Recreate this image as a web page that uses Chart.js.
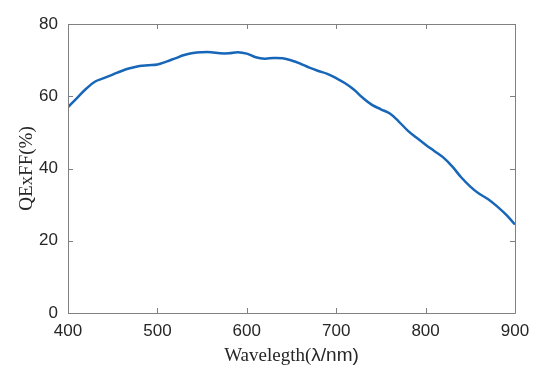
<!DOCTYPE html>
<html>
<head>
<meta charset="utf-8">
<script src="https://cdn.jsdelivr.net/npm/chart.js@4.4.1/dist/chart.umd.min.js"></script>
<style>
  html, body { margin: 0; padding: 0; background: #fff; }
  #wrap { width: 550px; height: 382px; }
</style>
</head>
<body>
<div id="wrap"><canvas id="qeChart"></canvas></div>
<script>
const wavelength = [400, 410, 420, 430, 440, 450, 460, 470, 480, 490,
  500, 510, 520, 530, 540, 550, 560, 570, 580, 590,
  600, 610, 620, 630, 640, 650, 660, 670, 680, 690,
  700, 710, 720, 730, 740, 750, 760, 770, 780, 790,
  800, 810, 820, 830, 840, 850, 860, 870, 880, 890, 900];
const qeff = [57, 59.5, 62, 64, 65, 66, 67, 67.8, 68.4, 68.6,
  68.8, 69.6, 70.5, 71.4, 72, 72.2, 72.2, 71.9, 71.9, 72.2,
  71.8, 70.8, 70.4, 70.6, 70.5, 69.9, 69, 67.9, 67, 66.2,
  65, 63.6, 61.8, 59.5, 57.6, 56.4, 55.2, 53, 50.5, 48.5,
  46.6, 44.8, 43, 40.5, 37.5, 35, 33, 31.5, 29.5, 27.2, 24.5];
const xTicks = [400, 500, 600, 700, 800, 900];
const yTicks = [0, 20, 40, 60, 80];

const axisColor = "#808080";
const textColor = "#262626";

// MATLAB style box with ticks pointing inwards, plus the mixed-font x title
const boxPlugin = {
  id: "boxPlugin",
  afterDraw(chart) {
    const ctx = chart.ctx;
    const a = chart.chartArea;
    const xs = chart.scales.x;
    const ys = chart.scales.y;
    const len = 5;
    ctx.save();
    ctx.strokeStyle = axisColor;
    ctx.lineWidth = 1;
    ctx.beginPath();
    ctx.rect(a.left + 0.5, a.top + 0.5, a.right - a.left, a.bottom - a.top);
    xTicks.forEach((v) => {
      const px = Math.round(xs.getPixelForValue(v)) + 0.5;
      ctx.moveTo(px, a.bottom);
      ctx.lineTo(px, a.bottom - len);
      ctx.moveTo(px, a.top);
      ctx.lineTo(px, a.top + len);
    });
    yTicks.forEach((v) => {
      const py = Math.round(ys.getPixelForValue(v)) + 0.5;
      ctx.moveTo(a.left, py);
      ctx.lineTo(a.left + len, py);
      ctx.moveTo(a.right, py);
      ctx.lineTo(a.right - len, py);
    });
    ctx.stroke();

    // x axis title: "Wavelegth(" in serif, "λ/nm)" in sans
    const part1 = "Wavelegth(";
    const part2 = "λ/nm)";
    const f1 = "19px 'Liberation Serif'";
    const f2 = "19px 'Liberation Sans'";
    ctx.font = f1;
    const w1 = ctx.measureText(part1).width;
    ctx.font = f2;
    const w2 = ctx.measureText(part2).width;
    const cx = (a.left + a.right) / 2;
    const x0 = cx - (w1 + w2) / 2;
    const y0 = 361;
    ctx.fillStyle = textColor;
    ctx.textBaseline = "alphabetic";
    ctx.textAlign = "left";
    ctx.font = f1;
    ctx.fillText(part1, x0, y0);
    ctx.font = f2;
    ctx.fillText(part2, x0 + w1, y0);
    ctx.restore();
  },
};

new Chart(document.getElementById("qeChart").getContext("2d"), {
  type: "line",
  data: {
    datasets: [
      {
        data: wavelength.map((w, i) => ({ x: w, y: qeff[i] })),
        borderColor: "#1766b8",
        borderWidth: 2.5,
        pointRadius: 0,
        tension: 0.4,
        fill: false,
      },
    ],
  },
  options: {
    responsive: true,
    maintainAspectRatio: false,
    animation: false,
    layout: { padding: { left: 0, right: 35, top: 24, bottom: 0 } },
    plugins: {
      legend: { display: false },
      tooltip: { enabled: false },
    },
    scales: {
      x: {
        type: "linear",
        min: 400,
        max: 900,
        afterBuildTicks: (scale) => {
          scale.ticks = xTicks.map((v) => ({ value: v }));
        },
        afterFit: (scale) => {
          scale.height = 69;
        },
        grid: { display: false, drawTicks: false },
        border: { display: false },
        ticks: {
          color: textColor,
          padding: 8,
          maxRotation: 0,
          font: { family: "'Liberation Sans'", size: 17 },
        },
      },
      y: {
        min: 0,
        max: 80,
        afterBuildTicks: (scale) => {
          scale.ticks = yTicks.map((v) => ({ value: v }));
        },
        afterFit: (scale) => {
          scale.width = 68;
        },
        grid: { display: false, drawTicks: false },
        border: { display: false },
        ticks: {
          color: textColor,
          padding: 10,
          font: { family: "'Liberation Sans'", size: 17 },
        },
        title: {
          display: true,
          text: "QExFF(%)",
          color: textColor,
          padding: { top: 16, bottom: 0 },
          font: { family: "'Liberation Serif'", size: 19 },
        },
      },
    },
  },
  plugins: [boxPlugin],
});
</script>
</body>
</html>
